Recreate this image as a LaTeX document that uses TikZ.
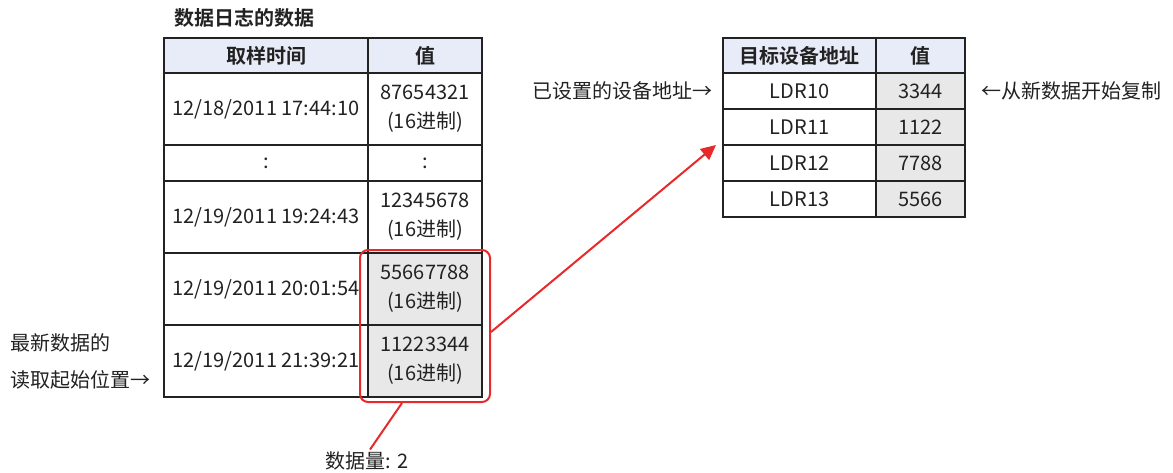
\documentclass[tikz,border=0pt]{standalone}
\usepackage{fontspec}
\setmainfont{Noto Sans CJK SC}[BoldFont={Noto Sans CJK SC Bold}]
\usetikzlibrary{arrows.meta}
\definecolor{hdr}{HTML}{E8ECF8}
\definecolor{gry}{HTML}{E8E8E8}
\definecolor{red1}{HTML}{E8292C}
\definecolor{txt}{HTML}{222222}
\tikzset{
  cell/.style={draw=txt, line width=1.1pt, inner sep=0pt, align=center, text=txt,
    font=\fontsize{20}{29}\selectfont},
  hcell/.style={cell, fill=hdr, font=\fontsize{20}{29}\selectfont\bfseries},
  vcell/.style={cell, fill=gry},
  lbl/.style={inner sep=0pt, text=txt, font=\fontsize{20}{29}\selectfont},
  redbox/.style={draw=red1, line width=2pt, rounded corners=8pt, minimum width=130pt, minimum height=152pt, inner sep=0pt},
  redline/.style={draw=red1, line width=2pt},
}
\begin{document}
\begin{tikzpicture}[x=1pt,y=-1pt]
\useasboundingbox[fill=white] (0,0) rectangle (1173,472);
% title
\node[lbl, anchor=west, font=\fontsize{20}{29}\selectfont\bfseries] (title) at (174,18) {数据日志的数据};
% left table
\node[hcell, minimum width=204pt, minimum height=35pt] (lh1) at (266,55.5) {取样时间};
\node[hcell, minimum width=114pt, minimum height=35pt] (lh2) at (425,55.5) {值};
\node[cell, minimum width=204pt, minimum height=72pt] (l11) at (266,109) {12/18/2011 17:44:10};
\node[cell, minimum width=114pt, minimum height=72pt] (l12) at (425,109) {87654321\\(16进制)};
\node[cell, minimum width=204pt, minimum height=36pt] (l21) at (266,163) {:};
\node[cell, minimum width=114pt, minimum height=36pt] (l22) at (425,163) {:};
\node[cell, minimum width=204pt, minimum height=72pt] (l31) at (266,217) {12/19/2011 19:24:43};
\node[cell, minimum width=114pt, minimum height=72pt] (l32) at (425,217) {12345678\\(16进制)};
\node[cell, minimum width=204pt, minimum height=72pt] (l41) at (266,289) {12/19/2011 20:01:54};
\node[vcell, minimum width=114pt, minimum height=72pt] (l42) at (425,289) {55667788\\(16进制)};
\node[cell, minimum width=204pt, minimum height=72pt] (l51) at (266,361) {12/19/2011 21:39:21};
\node[vcell, minimum width=114pt, minimum height=72pt] (l52) at (425,361) {11223344\\(16进制)};
% right table
\node[hcell, minimum width=153pt, minimum height=35pt] (rh1) at (799.5,55.5) {目标设备地址};
\node[hcell, minimum width=89pt, minimum height=35pt] (rh2) at (920.5,55.5) {值};
\node[cell, minimum width=153pt, minimum height=36pt] (r11) at (799.5,91) {LDR10};
\node[vcell, minimum width=89pt, minimum height=36pt] (r12) at (920.5,91) {3344};
\node[cell, minimum width=153pt, minimum height=36pt] (r21) at (799.5,127) {LDR11};
\node[vcell, minimum width=89pt, minimum height=36pt] (r22) at (920.5,127) {1122};
\node[cell, minimum width=153pt, minimum height=36pt] (r31) at (799.5,163) {LDR12};
\node[vcell, minimum width=89pt, minimum height=36pt] (r32) at (920.5,163) {7788};
\node[cell, minimum width=153pt, minimum height=36pt] (r41) at (799.5,199) {LDR13};
\node[vcell, minimum width=89pt, minimum height=36pt] (r42) at (920.5,199) {5566};
% annotations
\node[lbl, anchor=east] (setaddr) at (713,91) {已设置的设备地址→};
\node[lbl, anchor=west] (copy) at (981,91) {←从新数据开始复制};
\node[lbl, anchor=west] (start1) at (10,343) {最新数据的};
\node[lbl, anchor=west] (start2) at (10,380) {读取起始位置→};
% red selection
\node[redbox] (sel) at (425,326) {};
\node[lbl] (cnt) at (367,461) {数据量: 2};
\coordinate (tip) at (716,145);
\draw[redline, -{Triangle[length=15pt,width=14pt]}] ([yshift=-6pt]sel.east) -- (tip);
\draw[redline] ([xshift=-23pt]sel.south) -- ([xshift=3pt,yshift=2pt]cnt.north);
\end{tikzpicture}
\end{document}
